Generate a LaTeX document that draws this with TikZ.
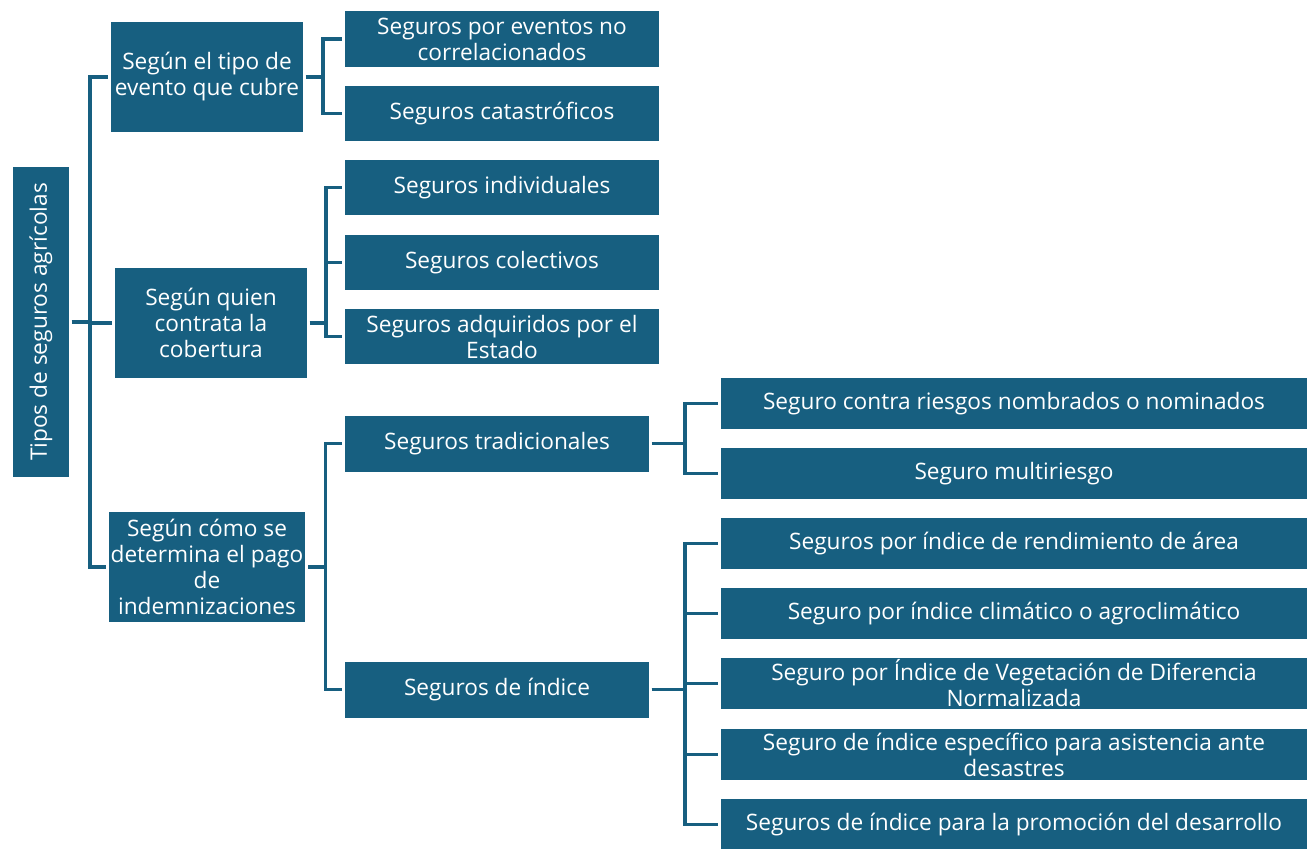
\documentclass[tikz,border=0pt]{standalone}
\usepackage{fontspec}
\setmainfont{Open Sans}
\usepackage{graphicx}
\definecolor{tealbox}{RGB}{23,95,128}

\begin{document}
\begin{tikzpicture}[x=0.02cm, y=-0.02cm,
        box/.style={fill=tealbox, text=white, align=center, inner sep=1pt, outer sep=0.06cm, font=\fontsize{12.9}{14.8}\selectfont},
        catbox/.style={box, minimum width=3.84cm, minimum height=2.2cm},
        midbox/.style={box, minimum width=6.28cm, minimum height=1.12cm},
        subbox/.style={box, minimum width=6.08cm, minimum height=1.12cm},
        leafbox/.style={box, minimum width=11.72cm, minimum height=1.02cm},
        link/.style={draw=tealbox, line width=1.8pt}]
        \useasboundingbox (0,0) rectangle (1307,848);

        % Nodes
        \node[box, minimum width=1.12cm, minimum height=6.2cm] (tipos) at (41,322) {\rotatebox{90}{Tipos de seguros agrícolas}};

        \node[catbox] (tipoEvento) at (207,77) {Según el tipo de\\evento que cubre};
        \node[catbox] (contrata) at (211,323) {Según quien\\contrata la\\cobertura};
        \node[catbox] (pago) at (207,567) {Según cómo se\\determina el pago\\de\\indemnizaciones};

        \node[midbox] (noCorrel) at (502,39) {Seguros por eventos no\\correlacionados};
        \node[midbox] (catastrof) at (502,113.5) {Seguros catastróficos};
        \node[midbox] (individ) at (502,187.5) {Seguros individuales};
        \node[midbox] (colect) at (502,262.5) {Seguros colectivos};
        \node[midbox] (estado) at (502,336.5) {Seguros adquiridos por el\\Estado};
        \node[subbox] (tradic) at (497,443.5) {Seguros tradicionales};
        \node[subbox] (indice) at (497,689.5) {Seguros de índice};

        \node[leafbox] (nombrados) at (1014,403.5) {Seguro contra riesgos nombrados o nominados};
        \node[leafbox] (multiriesgo) at (1014,473.5) {Seguro multiriesgo};
        \node[leafbox] (rendimiento) at (1014,543.5) {Seguros por índice de rendimiento de área};
        \node[leafbox] (climatico) at (1014,613.5) {Seguro por índice climático o agroclimático};
        \node[leafbox] (ndvi) at (1014,683.5) {Seguro por Índice de Vegetación de Diferencia\\Normalizada};
        \node[leafbox] (desastres) at (1014,754.5) {Seguro de índice específico para asistencia ante\\desastres};
        \node[leafbox] (desarrollo) at (1014,824.5) {Seguros de índice para la promoción del desarrollo};

        % Edges
        \draw[link] (tipos.east) -- ++(18,0) |- (tipoEvento.west);
        \draw[link] (tipos.east) -- ++(18,0) |- (contrata.west);
        \draw[link] (tipos.east) -- ++(18,0) |- (pago.west);

        \draw[link] (tipoEvento.east) -- ++(17,0) |- (noCorrel.west);
        \draw[link] (tipoEvento.east) -- ++(17,0) |- (catastrof.west);

        \draw[link] (contrata.east) -- ++(16,0) |- (individ.west);
        \draw[link] (contrata.east) -- ++(16,0) |- (colect.west);
        \draw[link] (contrata.east) -- ++(16,0) |- (estado.west);

        \draw[link] (pago.east) -- ++(17,0) |- (tradic.west);
        \draw[link] (pago.east) -- ++(17,0) |- (indice.west);

        \draw[link] (tradic.east) -- ++(33,0) |- (nombrados.west);
        \draw[link] (tradic.east) -- ++(33,0) |- (multiriesgo.west);

        \draw[link] (indice.east) -- ++(33,0) |- (rendimiento.west);
        \draw[link] (indice.east) -- ++(33,0) |- (climatico.west);
        \draw[link] (indice.east) -- ++(33,0) |- (ndvi.west);
        \draw[link] (indice.east) -- ++(33,0) |- (desastres.west);
        \draw[link] (indice.east) -- ++(33,0) |- (desarrollo.west);

    \end{tikzpicture}
\end{document}
